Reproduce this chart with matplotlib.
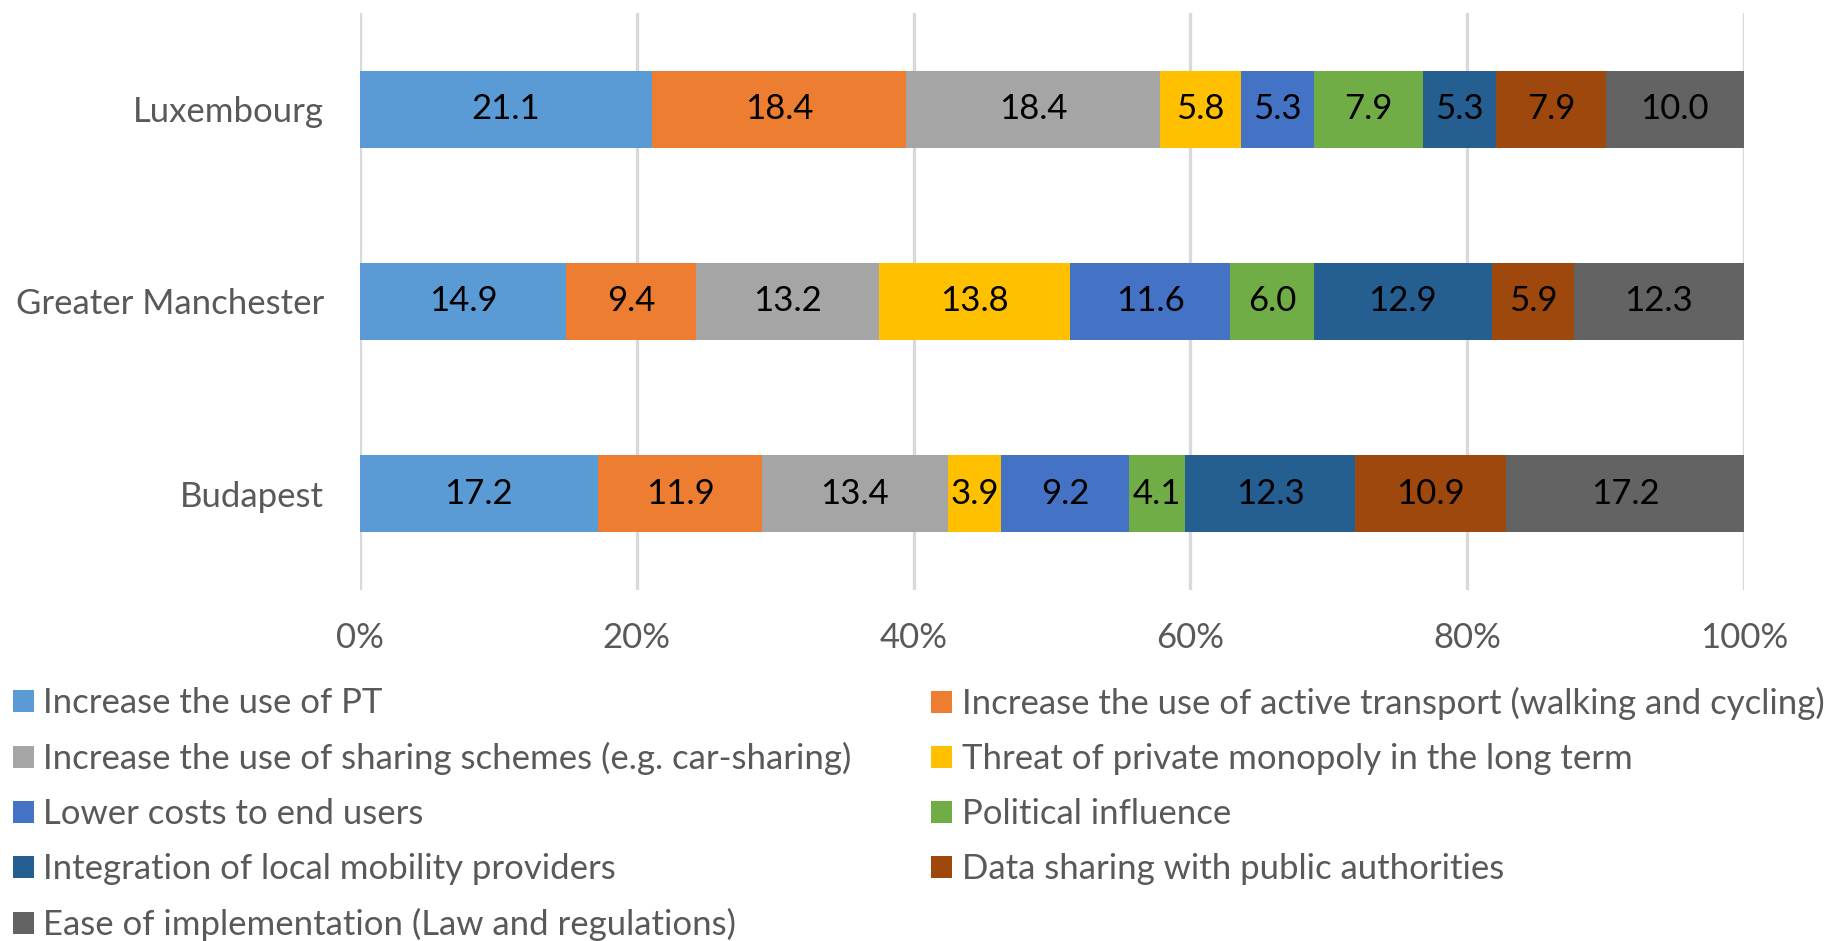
import numpy as np
from matplotlib import pyplot as plt
from matplotlib.ticker import PercentFormatter

#: Cities, bottom to top.
cities = ["Budapest", "Greater Manchester", "Luxembourg"]

#: Benefit categories, in stacking order.
categories = [
    "Increase the use of PT",
    "Increase the use of active transport (walking and cycling)",
    "Increase the use of sharing schemes (e.g. car-sharing)",
    "Threat of private monopoly in the long term",
    "Lower costs to end users",
    "Political influence",
    "Integration of local mobility providers",
    "Data sharing with public authorities",
    "Ease of implementation (Law and regulations)",
]

budapest = [17.2, 11.9, 13.4, 3.9, 9.2, 4.1, 12.3, 10.9, 17.2]
manchester = [14.9, 9.4, 13.2, 13.8, 11.6, 6.0, 12.9, 5.9, 12.3]
luxembourg = [21.1, 18.4, 18.4, 5.8, 5.3, 7.9, 5.3, 7.9, 10.0]

colors = ["#5B9BD5", "#ED7D31", "#A5A5A5", "#FFC000", "#4472C4",
          "#70AD47", "#255E91", "#9E480E", "#636363"]

plt.rcParams["font.family"] = ["Lato", "DejaVu Sans"]
FS = 25
GREY = "#595959"

values = np.array([budapest, manchester, luxembourg])
shares = values / values.sum(axis=1, keepdims=True) * 100

fig = plt.figure(figsize=(18.29, 9.41), dpi=100)
ax = fig.add_axes([0.1968, 0.373, 0.7567, 0.6132])

y = np.arange(len(cities))
left = np.zeros(len(cities))
bars = []
for j, cat in enumerate(categories):
    b = ax.barh(y, shares[:, j], left=left, height=0.4, color=colors[j],
                label=cat, zorder=2)
    ax.bar_label(b, labels=[f"{v:.1f}" for v in values[:, j]],
                 label_type="center", fontsize=FS, color="black")
    bars.append(b)
    left += shares[:, j]

ax.set_xlim(0, 100)
ax.set_ylim(-0.5, 2.5)
ax.set_xticks(np.arange(0, 101, 20))
ax.xaxis.set_major_formatter(PercentFormatter(decimals=0))
ax.set_yticks(y)
ax.set_yticklabels(cities)
ax.grid(axis="x", color="#D9D9D9", linewidth=2.4, zorder=0)
ax.set_axisbelow(True)
for s in ax.spines.values():
    s.set_visible(False)
ax.tick_params(axis="x", length=0, pad=23, labelsize=FS, labelcolor=GREY)
ax.tick_params(axis="y", length=0, pad=26, labelsize=FS, labelcolor=GREY)

leg_kw = dict(frameon=False, fontsize=FS, labelcolor=GREY, handlelength=0.6,
              handleheight=0.6, handletextpad=0.28, labelspacing=0.66,
              borderpad=0, borderaxespad=0, loc="upper left")
left_idx = [0, 2, 4, 6, 8]
right_idx = [1, 3, 5, 7]
fig.legend([bars[i] for i in left_idx], [categories[i] for i in left_idx],
           bbox_to_anchor=(0.007, 0.270), **leg_kw)
fig.legend([bars[i] for i in right_idx], [categories[i] for i in right_idx],
           bbox_to_anchor=(0.509, 0.270), **leg_kw)

fig.savefig("out.png", dpi=100, facecolor="white")
